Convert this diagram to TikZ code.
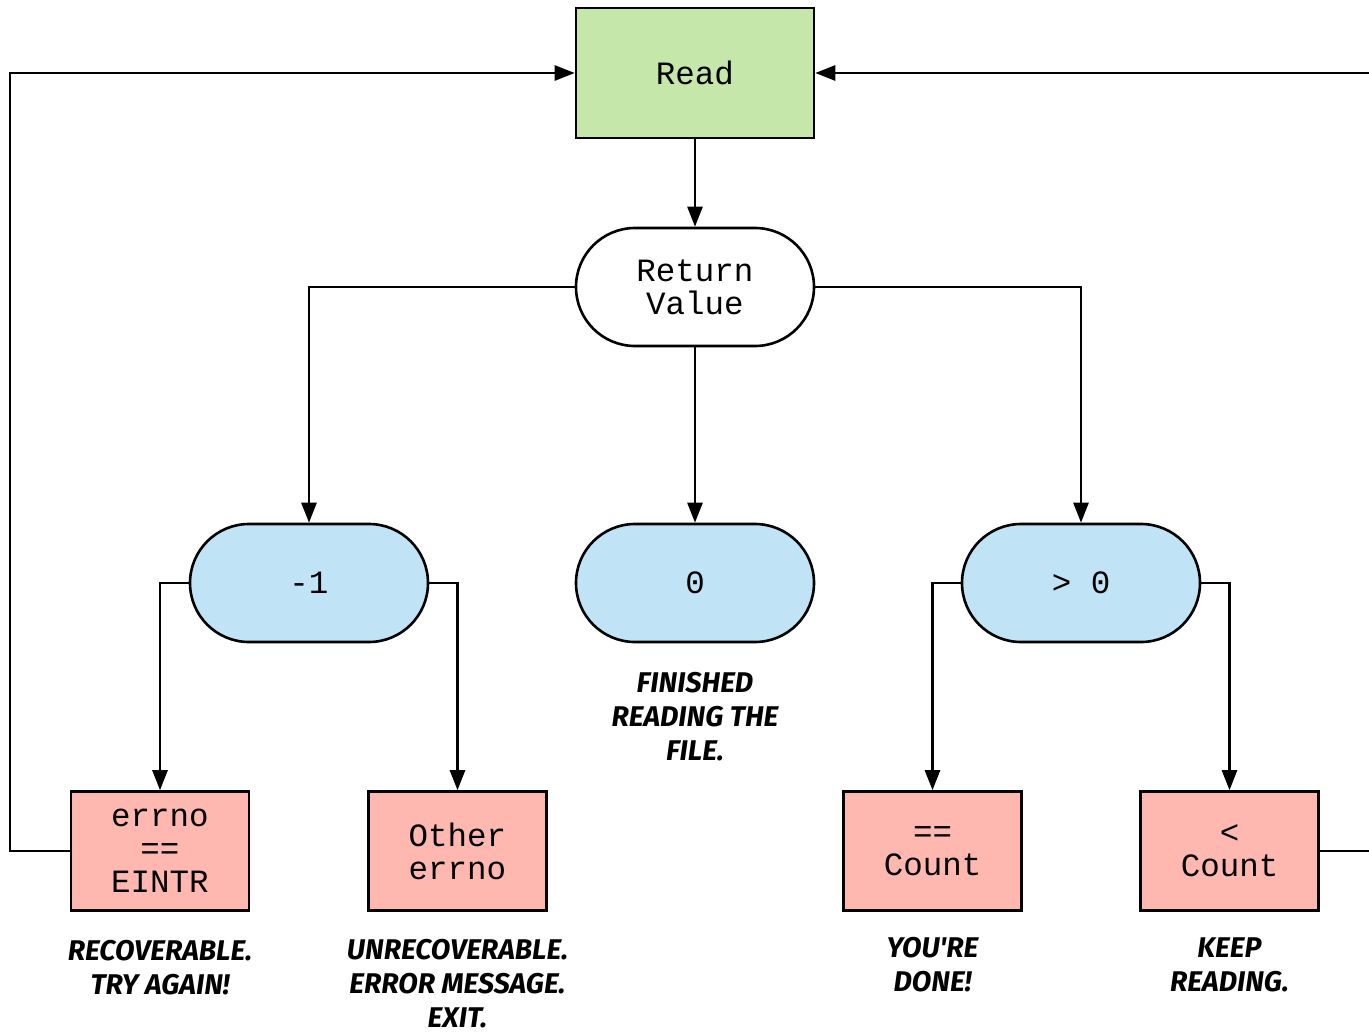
\documentclass[tikz,border=0pt]{standalone}
\usepackage{fontspec}
\setmonofont{Liberation Mono}
\newfontfamily\capfont{Fira Sans}
\usetikzlibrary{arrows.meta,shapes.misc}
\definecolor{readgreen}{HTML}{C6E7AA}
\definecolor{valblue}{HTML}{C1E3F6}
\definecolor{errpink}{HTML}{FFB8B0}
\tikzset{
  base/.style={draw=black, line width=2.6pt, align=center, inner sep=0pt,
    font=\ttfamily\fontsize{32.5}{33}\selectfont},
  readbox/.style={base, fill=readgreen, minimum width=238pt, minimum height=130pt},
  pill/.style={base, rounded rectangle, minimum width=238pt, minimum height=118pt},
  valpill/.style={pill, fill=valblue},
  leafbox/.style={base, fill=errpink, minimum width=178pt, minimum height=119pt},
  note/.style={align=center, inner sep=0pt, font=\capfont\bfseries\itshape\fontsize{28.5}{34}\selectfont},
  conn/.style={line width=2.6pt, -{Triangle[length=20pt,width=15pt]}}
}
\begin{document}
\begin{tikzpicture}[x=1pt,y=-1pt]
\useasboundingbox (0,0) rectangle (1369,1033);
\node[readbox] (read) at (695,73) {Read};
\node[pill, fill=white] (ret) at (695,287) {Return\\Value};
\node[valpill] (neg) at (309,583) {-1};
\node[valpill] (zero) at (695,583) {0};
\node[valpill] (pos) at (1081,583) {> 0};
\node[leafbox] (eintr) at (160,851) {errno\\==\\EINTR};
\node[leafbox] (other) at (457.5,851) {Other\\errno};
\node[leafbox] (eq) at (932.5,851) {==\\Count};
\node[leafbox] (lt) at (1229.5,851) {<\\Count};

\node[note] (n1) at (160,968) {RECOVERABLE.\\TRY AGAIN!};
\node[note] (n2) at (457.5,984) {UNRECOVERABLE.\\ERROR MESSAGE.\\EXIT.};
\node[note] (n3) at (695,717) {FINISHED\\READING THE\\FILE.};
\node[note] (n4) at (932.5,965) {YOU'RE\\DONE!};
\node[note] (n5) at (1229.5,965) {KEEP\\READING.};

\coordinate (lcorner) at (10,851);
\coordinate (rcorner) at (1375,851);

\draw[conn] (read.south) -- (ret.north);
\draw[conn] (ret.west) -| (neg.north);
\draw[conn] (ret.south) -- (zero.north);
\draw[conn] (ret.east) -| (pos.north);
\draw[conn] (neg.west) -| (eintr.north);
\draw[conn] (neg.east) -| (other.north);
\draw[conn] (pos.west) -| (eq.north);
\draw[conn] (pos.east) -| (lt.north);
\draw[conn] (eintr.west) -- (lcorner) |- (read.west);
\draw[conn] (lt.east) -- (rcorner) |- (read.east);
\end{tikzpicture}
\end{document}
